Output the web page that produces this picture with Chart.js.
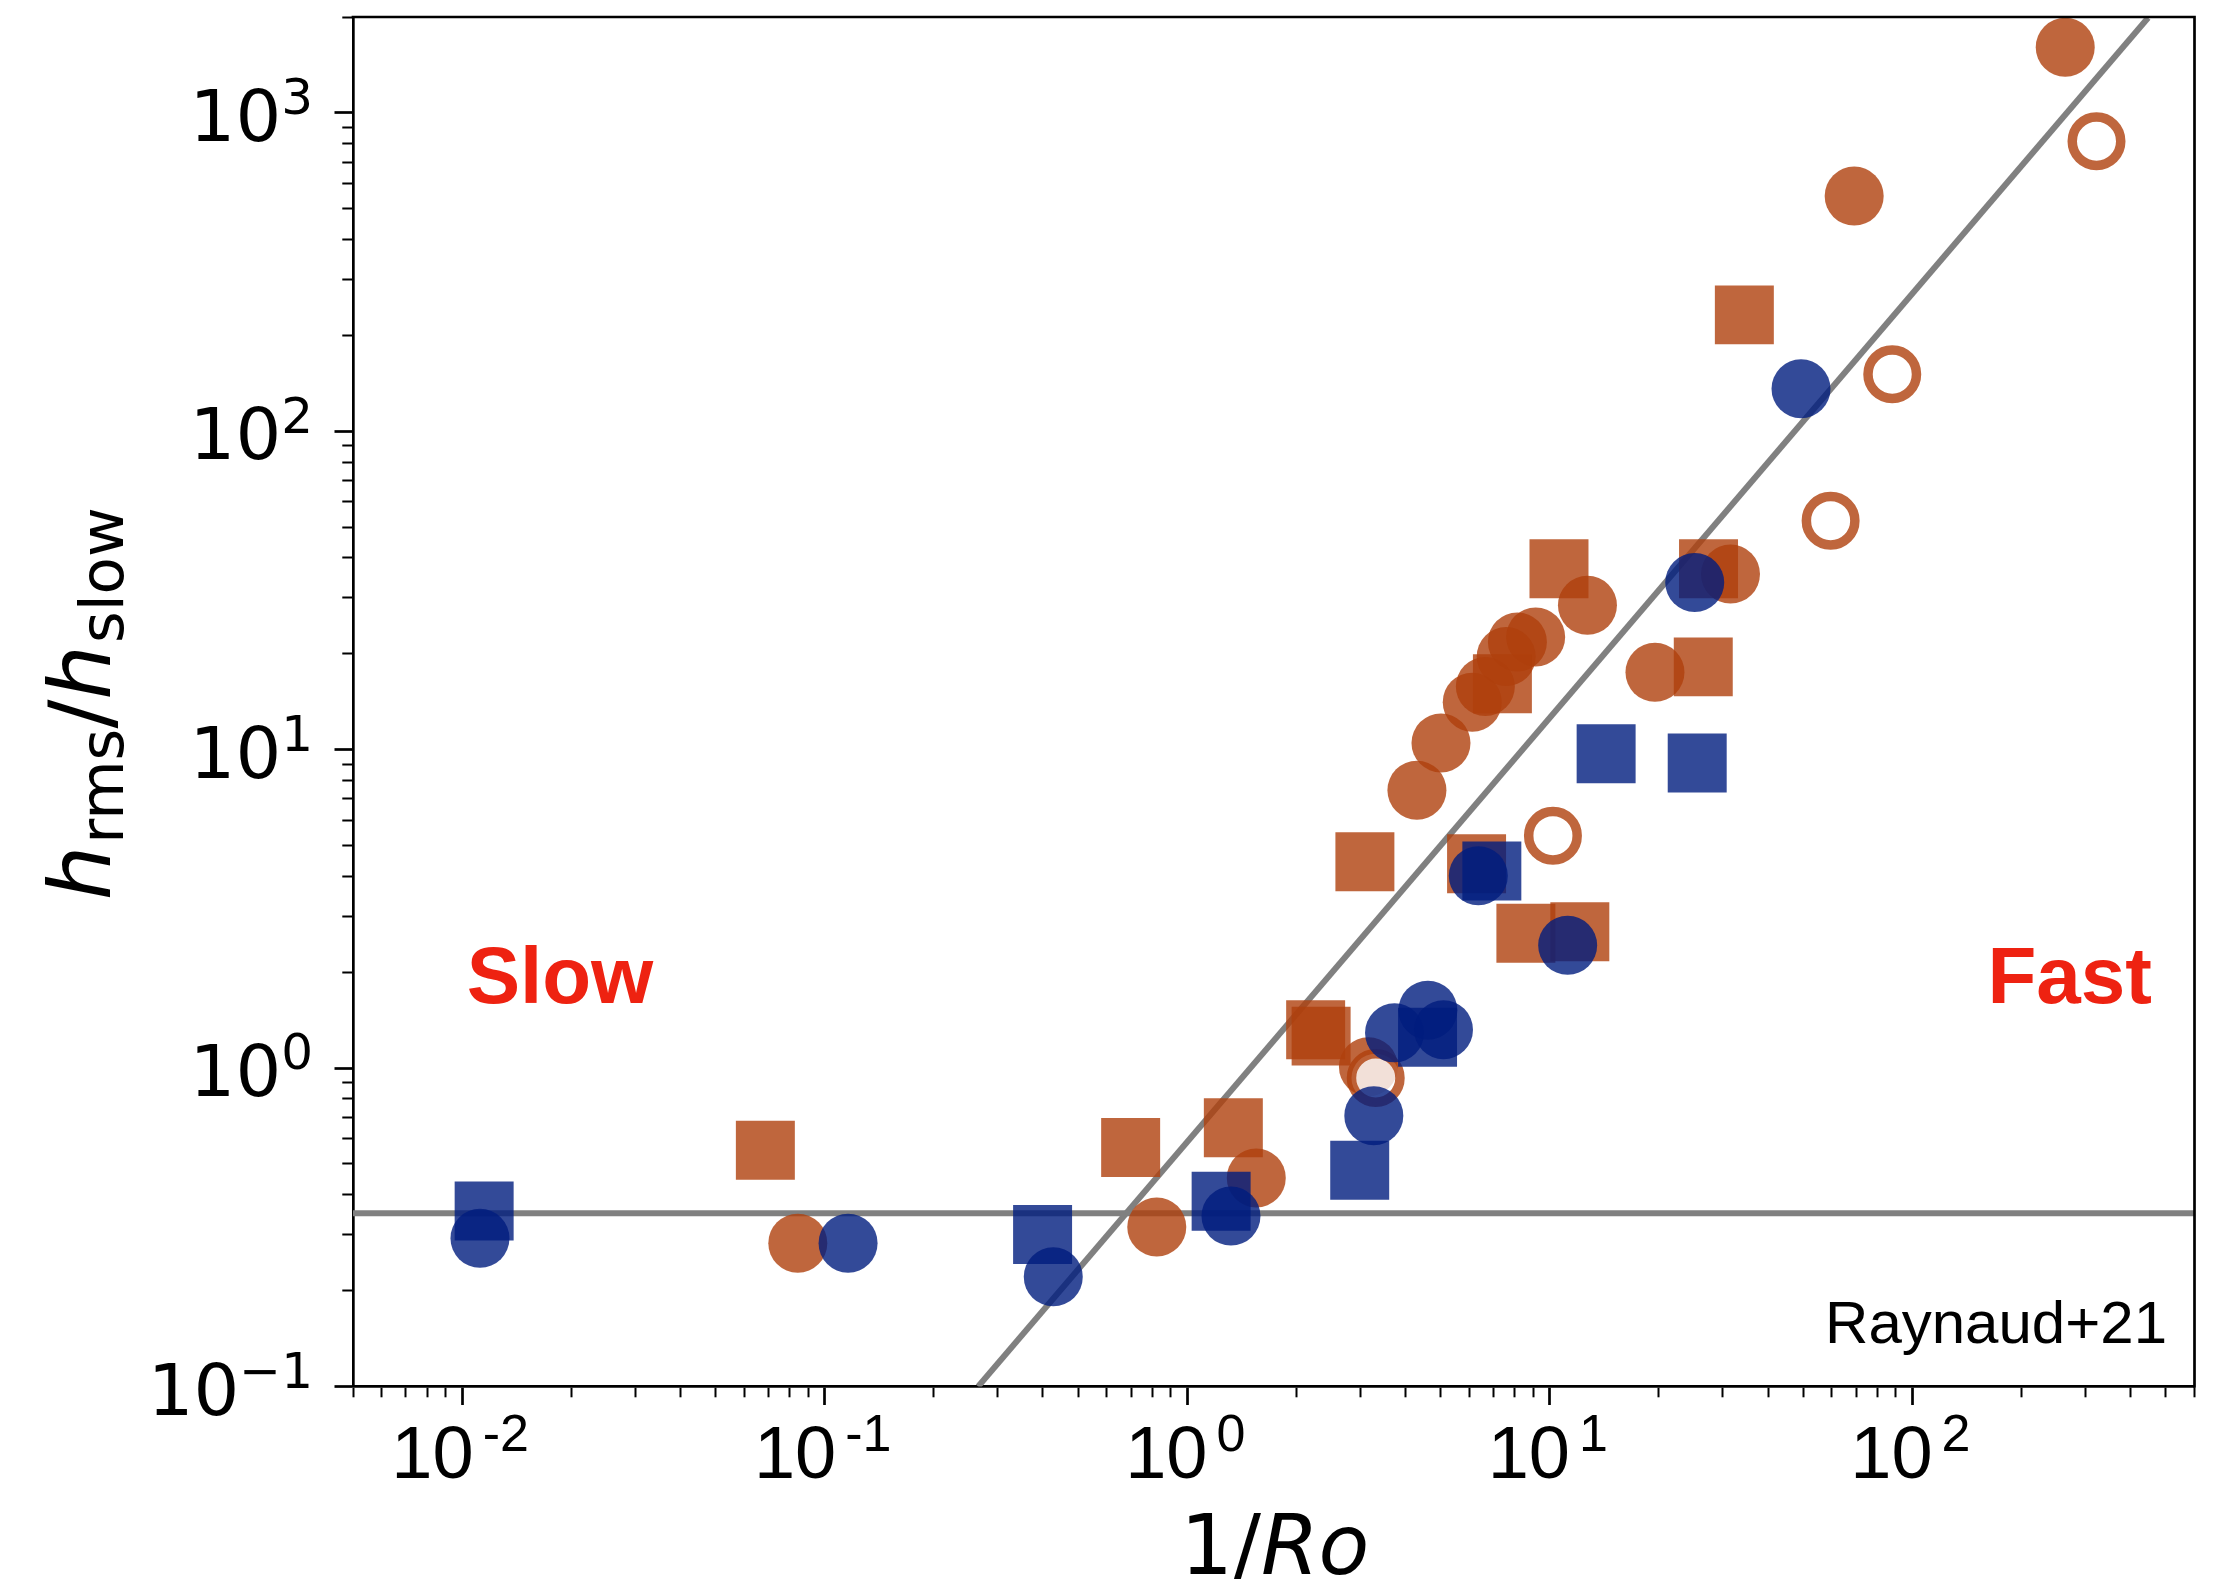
<!DOCTYPE html>
<html><head><meta charset="utf-8">
<script src="https://cdn.jsdelivr.net/npm/chart.js@4/dist/chart.umd.min.js"></script>
<style>html,body{margin:0;padding:0;background:#fff;}canvas{display:block;}</style>
</head><body>
<canvas id="c" width="2229" height="1579"></canvas>
<script>
// ---- data (1/Ro, h_rms/h_slow) ----
const blueCircleX = [0.0112, 0.116, 0.427, 1.32, 3.27, 3.73, 4.61, 5.09, 6.35, 11.2, 25.1, 49.3];
const blueCircleY = [0.292, 0.282, 0.221, 0.343, 0.709, 1.29, 1.52, 1.32, 4.02, 2.43, 33.5, 136];
const blueSquareX = [0.0115, 0.399, 1.24, 2.99, 4.60, 6.92, 14.3, 25.5];
const blueSquareY = [0.356, 0.300, 0.382, 0.478, 1.25, 4.16, 9.71, 9.08];
const orangeCircleX = [0.0843, 0.824, 1.55, 3.16, 4.30, 5.01, 6.11, 6.64, 7.58, 8.14, 9.14, 12.7, 19.5, 31.5, 69.1, 264];
const orangeCircleY = [0.282, 0.317, 0.452, 1.01, 7.46, 10.5, 14.1, 15.8, 19.6, 21.8, 22.6, 28.4, 17.5, 35.6, 548, 1607];
const orangeSquareX = [0.0686, 0.698, 1.34, 2.26, 2.34, 3.09, 6.28, 7.40, 8.59, 12.1, 10.6, 26.5, 27.4, 34.4];
const orangeSquareY = [0.552, 0.563, 0.650, 1.32, 1.26, 4.45, 4.38, 16.1, 2.65, 2.68, 37.0, 18.2, 37.0, 232];
const openCircleX = [3.31, 10.2, 59.5, 88.0, 322];
const openCircleY = [0.931, 5.37, 52.4, 151, 814];
const fitLineX = [0.265, 447];
const fitLineY = [0.1, 1990];
const slowLevelX = [0.005, 600];
const slowLevelY = [0.35, 0.35];

// ---- ticks ----
const xMin = 0.005, xMax = 600, yMin = 0.1, yMax = 2000;
const xMajorTicks = [0.01, 0.1, 1, 10, 100];
const xTickExponents = ['-2', '-1', '0', '1', '2'];
const yMajorTicks = [0.1, 1, 10, 100, 1000];
const yTickExponents = ['\u22121', '0', '1', '2', '3'];
const minorMultipliers = [2, 3, 4, 5, 6, 7, 8, 9];

const ORANGE = 'rgba(175,64,12,0.8)';
const BLUE = 'rgba(0,29,126,0.8)';

function pts(xs, ys) { return xs.map((x, i) => ({x: x, y: ys[i]})); }
function tickList(majors, min, max) {
  const out = [];
  [majors[0] / 10, ...majors].forEach(m => {
    if (m >= min && m <= max) out.push({value: m, major: true});
    minorMultipliers.forEach(k => {
      const v = +(m * k).toPrecision(6);
      if (v >= min && v <= max) out.push({value: v, major: false});
    });
  });
  return out.sort((a, b) => a.value - b.value);
}

function drawRuns(ctx, runs, startX, baseY) {
  let u = startX;
  runs.forEach(r => {
    ctx.font = r[1];
    ctx.fillText(r[0], u, baseY + (r[2] || 0));
    u += ctx.measureText(r[0]).width + (r[3] || 0);
  });
}
function runsWidth(ctx, runs) {
  let w = 0;
  runs.forEach(r => { ctx.font = r[1]; w += ctx.measureText(r[0]).width + (r[3] || 0); });
  return w;
}

const textPlugin = {
  id: 'customText',
  afterDraw(chart) {
    const ctx = chart.ctx, a = chart.chartArea, xs = chart.scales.x, ys = chart.scales.y;
    ctx.save();
    // top & right frame
    ctx.strokeStyle = '#000'; ctx.lineWidth = 2.7; ctx.lineCap = 'square';
    ctx.beginPath(); ctx.moveTo(a.left, a.top); ctx.lineTo(a.right, a.top); ctx.lineTo(a.right, a.bottom); ctx.stroke();

    ctx.fillStyle = '#000'; ctx.textAlign = 'left'; ctx.textBaseline = 'alphabetic';
    // x tick labels
    const xb = '74px "Liberation Sans"', xsf = '52px "Liberation Sans"';
    xMajorTicks.forEach((v, i) => {
      const px = xs.getPixelForValue(v);
      ctx.font = xb; const wb = ctx.measureText('10').width;
      ctx.font = xsf; const wsu = ctx.measureText(xTickExponents[i]).width;
      const gap = 9, total = wb + gap + wsu;
      const left = px - total / 2 - 2;
      ctx.font = xb; ctx.fillText('10', left, a.bottom + 91);
      ctx.font = xsf; ctx.fillText(xTickExponents[i], left + wb + gap, a.bottom + 64);
    });
    // y tick labels
    const yb = '72px "DejaVu Sans"', ysf = '50px "DejaVu Sans"';
    yMajorTicks.forEach((v, i) => {
      const py = ys.getPixelForValue(v);
      ctx.font = yb; const wb = ctx.measureText('10').width;
      ctx.font = ysf; const wsu = ctx.measureText(yTickExponents[i]).width;
      const right = a.left - 40;
      const left = right - wb - wsu;
      ctx.font = yb; ctx.fillText('10', left, py + 28);
      ctx.font = ysf; ctx.fillText(yTickExponents[i], left + wb, py + 1.3);
    });
    // x title
    const xRuns = [['1/', '83px "DejaVu Sans"'], ['Ro', 'italic 83px "DejaVu Sans"']];
    const xw = runsWidth(ctx, xRuns);
    drawRuns(ctx, xRuns, (a.left + a.right) / 2 + 1 - xw / 2, 1574);
    // y title (rotated)
    ctx.save();
    ctx.translate(110, (a.top + a.bottom) / 2 + 2);
    ctx.rotate(-Math.PI / 2);
    const yRuns = [
      ['h', 'italic 86px "DejaVu Sans"', 0, 2],
      ['rms', '61px "DejaVu Sans"', 13.3],
      ['/', '86px "DejaVu Sans"', 0],
      ['h', 'italic 86px "DejaVu Sans"', 0, 2],
      ['slow', '61px "DejaVu Sans"', 13.3]
    ];
    const yw = runsWidth(ctx, yRuns);
    drawRuns(ctx, yRuns, -yw / 2, 0);
    ctx.restore();
    // annotations
    ctx.fillStyle = '#EE2211'; ctx.font = 'bold 80px "Liberation Sans"'; ctx.textAlign = 'center';
    ctx.fillText('Slow', a.left + 207, a.top + 986.3);
    ctx.fillText('Fast', a.right - 124.8, a.top + 986.3);
    ctx.fillStyle = '#000'; ctx.font = '60px "Liberation Sans"'; ctx.textAlign = 'right';
    ctx.fillText('Raynaud+21', a.right - 27.5, a.bottom - 43.8);
    ctx.restore();
  }
};

function axisCommon(isX) {
  return {
    type: 'logarithmic',
    ticks: {display: false},
    grid: {
      drawOnChartArea: false,
      drawTicks: true,
      tickLength: 18.5,
      tickColor: '#000',
      tickWidth: c => (c.tick && !c.tick.major) ? 2 : 2.7,
      tickBorderDash: c => (c.tick && !c.tick.major) ? (isX ? [9.6, 100] : [0, 7.8, 30, 100]) : []
    },
    border: {display: true, color: '#000', width: 2.7}
  };
}

const xAxis = Object.assign(axisCommon(true), {
  position: 'bottom', min: xMin, max: xMax,
  afterBuildTicks: s => { s.ticks = tickList(xMajorTicks, xMin, xMax); },
  afterFit: s => { s.height = 192.5; }
});
const yAxis = Object.assign(axisCommon(false), {
  position: 'left', min: yMin, max: yMax,
  afterBuildTicks: s => { s.ticks = tickList(yMajorTicks, yMin, yMax); },
  afterFit: s => { s.width = 353; }
});

new Chart(document.getElementById('c'), {
  type: 'scatter',
  data: {
    datasets: [
      {label: 'fit', data: pts(fitLineX, fitLineY), showLine: true, borderColor: '#808080', borderWidth: 6,
       pointRadius: 0, pointHoverRadius: 0, fill: false, order: 10},
      {label: 'slow level', data: pts(slowLevelX, slowLevelY), showLine: true, borderColor: '#808080', borderWidth: 6,
       pointRadius: 0, pointHoverRadius: 0, fill: false, order: 10},
      {label: 'orange circles', data: pts(orangeCircleX, orangeCircleY), pointStyle: 'circle', pointRadius: 29.5,
       pointHoverRadius: 29.5, pointBackgroundColor: ORANGE, pointBorderWidth: 0, pointBorderColor: 'rgba(0,0,0,0)', order: 6},
      {label: 'open circles', data: pts(openCircleX, openCircleY), pointStyle: 'circle', pointRadius: 24.25,
       pointHoverRadius: 24.25, pointBackgroundColor: 'rgba(255,255,255,0.8)', pointBorderWidth: 9.5, pointBorderColor: ORANGE, order: 5},
      {label: 'orange squares', data: pts(orangeSquareX, orangeSquareY), pointStyle: 'rect', pointRadius: 41.7,
       pointHoverRadius: 41.7, pointBackgroundColor: ORANGE, pointBorderWidth: 0, pointBorderColor: 'rgba(0,0,0,0)', order: 4},
      {label: 'blue squares', data: pts(blueSquareX, blueSquareY), pointStyle: 'rect', pointRadius: 41.7,
       pointHoverRadius: 41.7, pointBackgroundColor: BLUE, pointBorderWidth: 0, pointBorderColor: 'rgba(0,0,0,0)', order: 3},
      {label: 'blue circles', data: pts(blueCircleX, blueCircleY), pointStyle: 'circle', pointRadius: 29.5,
       pointHoverRadius: 29.5, pointBackgroundColor: BLUE, pointBorderWidth: 0, pointBorderColor: 'rgba(0,0,0,0)', order: 2}
    ]
  },
  options: {
    responsive: false,
    animation: false,
    events: [],
    devicePixelRatio: 1,
    layout: {autoPadding: false, padding: {left: 0, right: 34.5, top: 17, bottom: 0}},
    plugins: {legend: {display: false}, tooltip: {enabled: false}, title: {display: false}},
    scales: {x: xAxis, y: yAxis}
  },
  plugins: [textPlugin]
});
</script>
</body></html>
